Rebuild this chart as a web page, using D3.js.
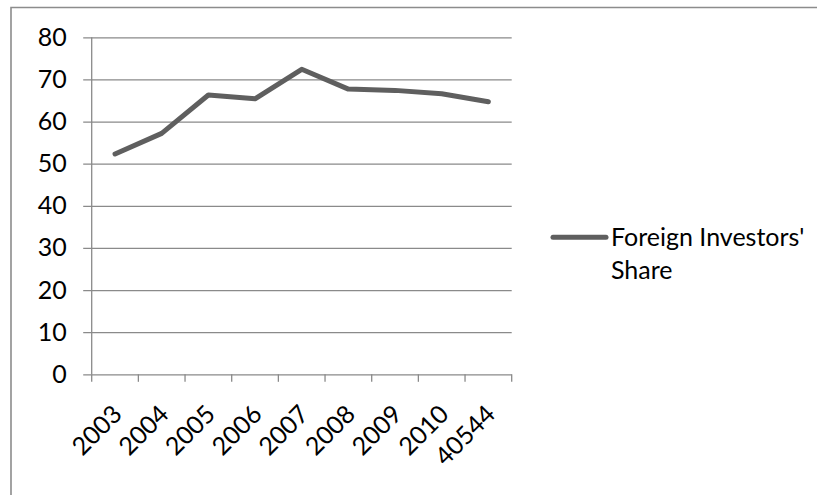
<!DOCTYPE html>
<html><head><meta charset="utf-8">
<script src="https://cdn.jsdelivr.net/npm/d3@7/dist/d3.min.js"></script>
<style>body{margin:0;background:#fff}svg{display:block}</style>
</head><body>
<svg id="c" width="817" height="495"></svg>
<script>
const categories = ["2003","2004","2005","2006","2007","2008","2009","2010","40544"];
const values = [52.3, 57.2, 66.3, 65.4, 72.4, 67.7, 67.4, 66.6, 64.7];
const yTicks = [0,10,20,30,40,50,60,70,80];
const seriesName = ["Foreign Investors'", "Share"];

(function(){
const svg = d3.select("#c");
const font = "Lato, 'Liberation Sans', Arial, sans-serif";
const fs = 25;
const gridColor = "#8a8a8a";
const lineColor = "#5f5f5f";

svg.append("path").attr("d","M11,500 V7.5 H820").attr("fill","none")
  .attr("stroke","#8c8c8c").attr("stroke-width",1.6);

const pL = 91.7, pR = 511.7, pT = 37.3, pB = 374.3;
const x = d3.scaleBand().domain(categories).range([pL, pR]).padding(0);
const y = d3.scaleLinear().domain([0,80]).range([pB, pT]);

const yAxis = d3.axisLeft(y).tickValues(yTicks).tickSize(-(pR-pL)).tickPadding(17).tickFormat(d3.format("d"));
const gy = svg.append("g").attr("transform",`translate(${pL},0)`).call(yAxis);
gy.select(".domain").remove();
gy.selectAll(".tick line").attr("stroke",gridColor).attr("stroke-width",1.3).attr("x1",-8.5);
gy.selectAll(".tick text").attr("font-family",font).attr("font-size",fs).attr("fill","#000").attr("dx",-8);

svg.append("line").attr("x1",pL).attr("x2",pL).attr("y1",pT).attr("y2",pB)
  .attr("stroke",gridColor).attr("stroke-width",1.3);

const bounds = categories.map(c => x(c)).concat([x(categories[categories.length-1]) + x.bandwidth()]);
svg.append("g").selectAll("line").data(bounds).join("line")
  .attr("x1",d=>d).attr("x2",d=>d).attr("y1",pB).attr("y2",pB+7.5)
  .attr("stroke",gridColor).attr("stroke-width",1.3);

svg.append("g").selectAll("text").data(categories).join("text")
  .attr("transform", d => `translate(${x(d)+x.bandwidth()/2+4},${pB+37}) rotate(-45)`)
  .attr("text-anchor","end").attr("dominant-baseline","middle")
  .attr("font-family",font).attr("font-size",fs).attr("fill","#000")
  .text(d=>d);

const line = d3.line().x((d,i)=>x(categories[i])+x.bandwidth()/2).y(d=>y(d));
svg.append("path").datum(values).attr("d",line).attr("fill","none")
  .attr("stroke",lineColor).attr("stroke-width",5).attr("stroke-linejoin","round").attr("stroke-linecap","round");

svg.append("line").attr("x1",553).attr("x2",606).attr("y1",237.3).attr("y2",237.3)
  .attr("stroke",lineColor).attr("stroke-width",5).attr("stroke-linecap","round");
svg.append("g").selectAll("text").data(seriesName).join("text")
  .attr("x",611).attr("y",(d,i)=>246+i*32.5)
  .attr("font-family",font).attr("font-size",fs).attr("fill","#000").text(d=>d);
})();
</script>
</body></html>
